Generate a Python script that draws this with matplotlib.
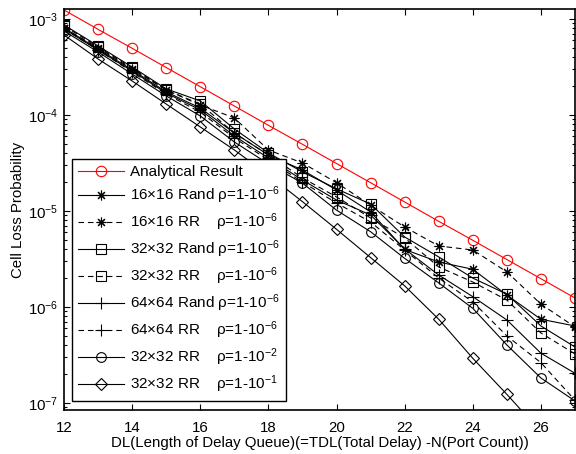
import numpy as np
import matplotlib
matplotlib.use("Agg")
import matplotlib.pyplot as plt
from matplotlib.ticker import LogLocator, NullFormatter, FixedLocator

plt.rcParams['font.family'] = ['Liberation Sans', 'DejaVu Sans']
plt.rcParams['mathtext.fontset'] = 'custom'
plt.rcParams['mathtext.rm'] = 'Liberation Sans'
plt.rcParams['mathtext.it'] = 'Liberation Sans:italic'
plt.rcParams['mathtext.bf'] = 'Liberation Sans:bold'

# ---------------- data ----------------
dl = [12, 13, 14, 15, 16, 17, 18, 19, 20, 21, 22, 23, 24, 25, 26, 27]

analytical = [1.24e-3, 7.8e-4, 4.95e-4, 3.12e-4, 1.97e-4, 1.24e-4, 7.8e-5, 4.95e-5,
              3.12e-5, 1.97e-5, 1.24e-5, 7.8e-6, 4.95e-6, 3.12e-6, 1.97e-6, 1.24e-6]

rand16 = [8.06e-4, 4.87e-4, 2.94e-4, 1.74e-4, 1.18e-4, 6.49e-5, 3.83e-5, 2.67e-5,
          1.65e-5, 9.77e-6, 3.97e-6, 2.94e-6, 2.47e-6, 1.33e-6, 7.45e-7, 6.34e-7]
rr16 = [8.06e-4, 4.99e-4, 3.01e-4, 1.82e-4, 1.27e-4, 9.31e-5, 4.32e-5, 3.16e-5,
        1.97e-5, 1.15e-5, 6.81e-6, 4.32e-6, 3.92e-6, 2.32e-6, 1.07e-6, 6.19e-7]
rand32 = [8.66e-4, 5.24e-4, 3.16e-4, 1.87e-4, 1.40e-4, 7.15e-5, 4.02e-5, 2.55e-5,
          1.70e-5, 1.18e-5, 5.36e-6, 3.32e-6, 2.00e-6, 1.36e-6, 6.34e-7, 3.83e-7]
rr32 = [8.46e-4, 5.11e-4, 3.09e-4, 1.82e-4, 1.30e-4, 6.49e-5, 3.83e-5, 2.21e-5,
        1.40e-5, 8.46e-6, 5.24e-6, 2.61e-6, 1.82e-6, 1.18e-6, 5.36e-7, 3.24e-7]
rand64 = [7.87e-4, 4.75e-4, 2.87e-4, 1.69e-4, 1.13e-4, 6.04e-5, 3.56e-5, 2.10e-5,
          1.30e-5, 9.08e-6, 4.02e-6, 2.15e-6, 1.28e-6, 7.32e-7, 3.30e-7, 2.04e-7]
rr64 = [7.87e-4, 4.75e-4, 2.80e-4, 1.65e-4, 1.07e-4, 5.76e-5, 3.40e-5, 2.00e-5,
        1.21e-5, 7.68e-6, 3.92e-6, 2.00e-6, 1.13e-6, 4.99e-7, 2.63e-7, 1.07e-7]
rr32_rho2 = [7.50e-4, 4.53e-4, 2.67e-4, 1.58e-4, 9.77e-5, 5.23e-5, 3.09e-5, 1.95e-5,
             1.02e-5, 6.08e-6, 3.21e-6, 1.78e-6, 9.68e-7, 4.02e-7, 1.82e-7, 1.05e-7]
rr32_rho1 = [6.81e-4, 3.83e-4, 2.26e-4, 1.30e-4, 7.50e-5, 4.32e-5, 2.37e-5, 1.25e-5,
             6.44e-6, 3.27e-6, 1.66e-6, 7.45e-7, 2.92e-7, 1.23e-7, 5.0e-8, 2.0e-8]

labels = [
    "Analytical Result",
    "16\u00d716 Rand \u03c1=1-10$^{-6}$",
    "16\u00d716 RR    \u03c1=1-10$^{-6}$",
    "32\u00d732 Rand \u03c1=1-10$^{-6}$",
    "32\u00d732 RR    \u03c1=1-10$^{-6}$",
    "64\u00d764 Rand \u03c1=1-10$^{-6}$",
    "64\u00d764 RR    \u03c1=1-10$^{-6}$",
    "32\u00d732 RR    \u03c1=1-10$^{-2}$",
    "32\u00d732 RR    \u03c1=1-10$^{-1}$",
]
xticks = [12, 14, 16, 18, 20, 22, 24, 26]
xlabel = "DL(Length of Delay Queue)(=TDL(Total Delay) -N(Port Count))"
ylabel = "Cell Loss Probability"

# ---------------- figure ----------------
W, H = 576, 454
fs = 10.8
fig = plt.figure(figsize=(W / 100, H / 100), dpi=100)
ax = fig.add_axes([64 / W, (H - 410) / H, (575 - 64) / W, (410 - 9) / H])

star = (8, 2, 0)
ms = 7
lw = 0.8
dash = (5, 3.5)
series = [
    (analytical, dict(color='red', marker='o', ls='-', ms=7.5)),
    (rand16, dict(color='black', marker=star, ls='-', ms=ms)),
    (rr16, dict(color='black', marker=star, ls='--', ms=ms)),
    (rand32, dict(color='black', marker='s', ls='-', ms=ms)),
    (rr32, dict(color='black', marker='s', ls='--', ms=ms)),
    (rand64, dict(color='black', marker='+', ls='-', ms=8)),
    (rr64, dict(color='black', marker='+', ls='--', ms=8)),
    (rr32_rho2, dict(color='black', marker='o', ls='-', ms=ms)),
    (rr32_rho1, dict(color='black', marker='D', ls='-', ms=6)),
]
for (vals, st), lab in zip(series, labels):
    line, = ax.semilogy(dl, vals, label=lab, lw=lw, mfc='none', mew=0.8,
                        color=st['color'], marker=st['marker'], ls=st['ls'],
                        ms=st['ms'])
    if st['ls'] == '--':
        line.set_dashes(dash)

ax.set_xlim(12, 27)
ax.set_ylim(8.45e-8, 1.27e-3)
ax.xaxis.set_major_locator(FixedLocator(xticks))
ax.yaxis.set_major_locator(LogLocator(base=10, numticks=10))
ax.yaxis.set_minor_locator(LogLocator(base=10, subs=np.arange(2, 10), numticks=20))
ax.yaxis.set_minor_formatter(NullFormatter())

ax.tick_params(which='both', direction='in', top=True, right=True,
               labelsize=fs, colors='black', width=0.8)
ax.tick_params(which='major', length=4, pad=4)
ax.tick_params(axis='x', which='major', pad=8)
ax.tick_params(which='minor', length=2)
for s in ax.spines.values():
    s.set_linewidth(1.2)
    s.set_color('black')

ax.set_xlabel(xlabel, fontsize=fs, labelpad=1)
ax.set_ylabel(ylabel, fontsize=fs, labelpad=2)

leg = ax.legend(loc='upper left', bbox_to_anchor=(72 / W, 1 - 159 / H),
                bbox_transform=fig.transFigure, borderaxespad=0,
                fontsize=11, frameon=True, fancybox=False, framealpha=1,
                edgecolor='black', handlelength=3.0, handletextpad=0.4,
                labelspacing=0.35, borderpad=0.42)
leg.get_frame().set_linewidth(1.0)

fig.savefig('out.png', dpi=100)
